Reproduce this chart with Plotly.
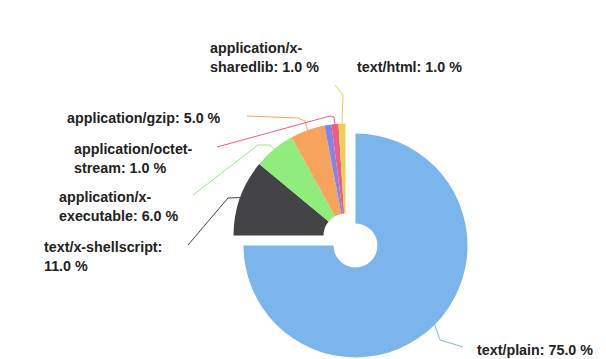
import math
import plotly.graph_objects as go

# MIME type share data
labels = ["text/plain", "text/x-shellscript", "application/x-executable",
          "application/gzip", "application/x-sharedlib",
          "application/octet-stream", "text/html"]
values = [75.0, 11.0, 6.0, 5.0, 1.0, 1.0, 1.0]
label_text = ["text/plain: 75.0 %", "text/x-shellscript:<br>11.0 %",
              "application/x-<br>executable: 6.0 %", "application/gzip: 5.0 %",
              "application/x-<br>sharedlib: 1.0 %", "application/octet-<br>stream: 1.0 %",
              "text/html: 1.0 %"]
colors = ["#7cb5ec", "#434348", "#90ed7d", "#f7a35c", "#8085e9", "#f15c80", "#e4d354"]

W, H = 606, 359
CX, CY, R = 355.5, 245.5, 112.0   # pie centre / radius in px
SHIFT = (-10.0, -10.0)            # offset of the sliced-out group
HOLE = 0.196

# label placement (left x, vertical centre, px) and connector waypoints
label_pos = {
    "text/plain": (475, 350),
    "text/x-shellscript": (42, 256),
    "application/x-executable": (57, 207),
    "application/gzip": (65, 118),
    "application/x-sharedlib": (208, 57.5),
    "application/octet-stream": (72, 158),
    "text/html": (355, 67),
}
connector_pts = {
    "text/plain": [(463, 347), (440, 340)],
    "text/x-shellscript": [(188, 245), (228, 198)],
    "application/x-executable": [(193, 195), (258, 145), (270, 145)],
    "application/gzip": [(247, 116), (298, 118), (305, 121)],
    "application/octet-stream": [(217, 147), (330, 116), (334, 117)],
    "text/html": [(335, 85), (343, 95)],
}


def px_domain(cx, cy, r):
    return dict(x=[(cx - r) / W, (cx + r) / W],
                y=[1 - (cy + r) / H, 1 - (cy - r) / H])


def pie(domain, col):
    return go.Pie(labels=labels, values=values, sort=False, direction="clockwise",
                  rotation=0, hole=HOLE, textinfo="none", hoverinfo="label+percent",
                  marker=dict(colors=col, line=dict(width=0)),
                  domain=domain, showlegend=False)


main_cols = [colors[0]] + ["rgba(0,0,0,0)"] * (len(values) - 1)
group_cols = ["rgba(0,0,0,0)"] + colors[1:]

fig = go.Figure()
fig.add_trace(pie(px_domain(CX, CY, R), main_cols))
fig.add_trace(pie(px_domain(CX + SHIFT[0], CY + SHIFT[1], R), group_cols))

# connector lines from each slice edge to its label
total = sum(values)
cum = 0.0
shapes = []
for i, (lab, v) in enumerate(zip(labels, values)):
    mid = (cum + v / 2) / total * 2 * math.pi
    cum += v
    cx, cy = (CX, CY) if i == 0 else (CX + SHIFT[0], CY + SHIFT[1])
    ex, ey = cx + R * math.sin(mid), cy - R * math.cos(mid)
    if lab not in connector_pts:
        continue
    pts = connector_pts[lab] + [(ex, ey)]
    path = "M {} {}".format(pts[0][0] / W, 1 - pts[0][1] / H)
    for (x, y) in pts[1:]:
        path += " L {} {}".format(x / W, 1 - y / H)
    shapes.append(dict(type="path", xref="paper", yref="paper", path=path,
                       line=dict(color=colors[i], width=1)))

annotations = []
for lab, txt in zip(labels, label_text):
    x, y = label_pos[lab]
    annotations.append(dict(x=x / W, y=1 - y / H, xref="paper", yref="paper",
                            xanchor="left", yanchor="middle", align="left",
                            showarrow=False, text="<b>" + txt + "</b>",
                            font=dict(family="Liberation Sans, Arial, sans-serif",
                                      size=14.3, color="#222222")))

fig.update_layout(width=W, height=H, margin=dict(l=0, r=0, t=0, b=0),
                  paper_bgcolor="white", plot_bgcolor="white",
                  shapes=shapes, annotations=annotations)

fig.write_html("out.html")
